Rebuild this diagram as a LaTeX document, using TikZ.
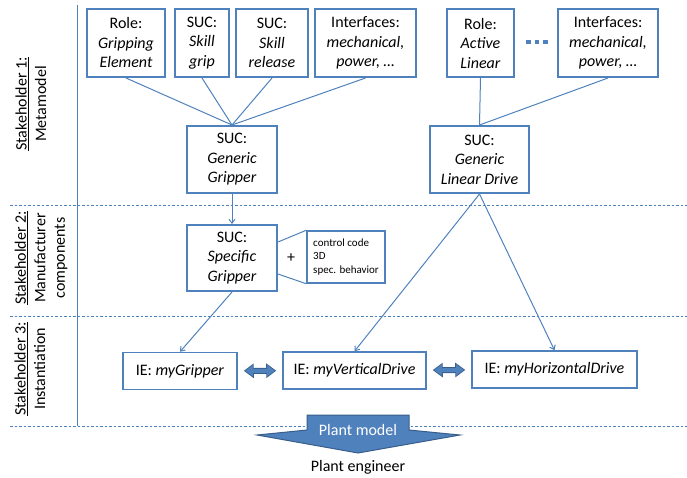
\documentclass[tikz,border=0pt]{standalone}
\usepackage{fontspec}
\setmainfont{Carlito}
\usetikzlibrary{arrows.meta, positioning, calc}
\definecolor{ofblue}{RGB}{79, 129, 189}
\definecolor{ofdark}{RGB}{56, 93, 138}

\tikzset{
  blk/.style={draw=ofblue, line width=2pt, fill=white, align=center, inner sep=1pt,
    font=\fontsize{16}{19.5}\selectfont},
  ie/.style={blk, line width=1.5pt, minimum height=37pt},
  link/.style={ofblue, line width=1pt},
  linkarr/.style={link, -{Straight Barb[length=4pt,width=6pt]}},
  lane/.style={ofblue, line width=0.9pt, dash pattern=on 2.5pt off 2pt},
  stake/.style={rotate=90, align=center, font=\fontsize{16}{19.5}\selectfont},
}

\begin{document}
\begin{tikzpicture}[x=1pt, y=-1pt]
  \useasboundingbox (0,0) rectangle (687,477);
  % swim lanes
  \foreach \y in {205,316,426} {
    \draw[lane] (10,\y) -- (687,\y);
  }
  \draw[ofblue, line width=1pt] (77,5) -- (77,426);
  \node[stake] (stake1) at (31,104) {\underline{Stakeholder 1:}\\Metamodel};
  \node[stake] (stake2) at (41,258) {\underline{Stakeholder 2:}\\Manufacturer\\components};
  \node[stake] (stake3) at (30,369) {\underline{Stakeholder 3:}\\Instantiation};

  % metamodel
  \node[blk, minimum width=78pt, minimum height=68pt] (rolegrip) at (126,43) {Role:\\\textit{Gripping}\\\textit{Element}};
  \node[blk, minimum width=54pt, minimum height=68pt] (skillgrip) at (202,43) {SUC:\\\textit{Skill}\\\textit{grip}};
  \node[blk, minimum width=72pt, minimum height=68pt] (skillrel) at (272,43) {SUC:\\\textit{Skill}\\\textit{release}};
  \node[blk, minimum width=101pt, minimum height=68pt] (ifgrip) at (365.5,43) {Interfaces:\\\textit{mechanical,}\\\textit{power, …}};
  \node[blk, minimum width=67pt, minimum height=68pt] (rolelin) at (480.5,43) {Role:\\\textit{Active}\\\textit{Linear}};
  \node[blk, minimum width=100pt, minimum height=68pt] (iflin) at (608,43) {Interfaces:\\\textit{mechanical,}\\\textit{power, …}};
  \foreach \x in {528.5,537,545.5} {
    \fill[ofblue] (\x-2.2,40) rectangle (\x+2.2,44.4);
  }
  \node[blk, minimum width=90pt, minimum height=67pt] (gengrip) at (232,159.5) {SUC:\\\textit{Generic}\\\textit{Gripper}};
  \node[blk, minimum width=99pt, minimum height=67pt] (genlin) at (479.5,159.5) {SUC:\\\textit{Generic}\\\textit{Linear Drive}};
  \foreach \n in {rolegrip,skillgrip,skillrel,ifgrip} {
    \draw[link] (\n.south) -- (gengrip.north);
  }
  \foreach \n in {rolelin,iflin} {
    \draw[link] (\n.south) -- (genlin.north);
  }

  % manufacturer
  \node[blk, minimum width=90pt, minimum height=66pt] (specgrip) at (232,258) {SUC:\\\textit{Specific}\\\textit{Gripper}};
  \node[draw=ofblue, line width=1.5pt, align=left, inner xsep=5pt, inner ysep=0pt, minimum width=78pt,
    minimum height=52pt, font=\fontsize{11}{13.5}\selectfont] (extras) at (346,257) {control code\\3D\\spec. behavior};
  \node[font=\fontsize{16}{19.5}\selectfont] (plus) at (291,258) {+};
  \draw[linkarr] (gengrip) -- (specgrip);
  \draw[link] ([yshift=16pt]specgrip.east) -- (extras.north west);
  \draw[link] ([yshift=-16pt]specgrip.east) -- (extras.south west);

  % instantiation
  \node[ie, minimum width=114pt] (iegrip) at (180,371) {IE: \textit{myGripper}};
  \node[ie, minimum width=143pt] (ievert) at (354.5,370.5) {IE: \textit{myVerticalDrive}};
  \node[ie, minimum width=165pt] (iehor) at (554.5,369.5) {IE: \textit{myHorizontalDrive}};
  \draw[linkarr] (specgrip.south) -- (iegrip.north);
  \draw[linkarr] (genlin.south) -- (ievert.north);
  \draw[linkarr] (genlin.south) -- (iehor.north);
  \foreach \a/\b in {iegrip/ievert, ievert/iehor} {
    \draw[ofdark, line width=6pt, shorten <=6pt, shorten >=6pt,
      {Triangle[length=10pt,width=14pt]}-{Triangle[length=10pt,width=14pt]}] (\a) -- (\b);
    \draw[ofblue, line width=4pt, shorten <=7.3pt, shorten >=7.3pt,
      {Triangle[length=8pt,width=11pt]}-{Triangle[length=8pt,width=11pt]}] (\a) -- (\b);
  }

  % plant model
  \draw[ofdark, fill=ofblue, line width=1pt] (307,415) -- (409,415) -- (409,430) -- (460,435)
    -- (358,453) -- (257,435) -- (307,430) -- cycle;
  \node[text=white, font=\fontsize{16}{19.5}\selectfont] (plant) at (358,430) {Plant model};
  \node[font=\fontsize{16}{19.5}\selectfont] (engineer) at (358,467) {Plant engineer};
\end{tikzpicture}
\end{document}
